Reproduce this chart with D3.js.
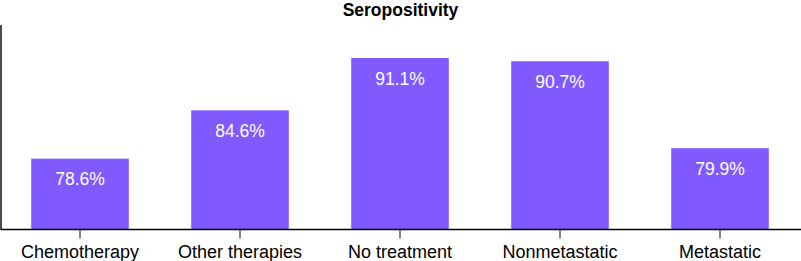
<!DOCTYPE html>
<head>
  <meta charset="utf-8">
  <script src="https://cdn.jsdelivr.net/npm/d3@7"></script>
  <style>
    body {
      margin: 0;
      font-family: "Liberation Sans", Arial, sans-serif;
    }
    .title {
      font-weight: bold;
      font-size: 17.5px;
    }
    .bar-label {
      fill: #fff;
      font-size: 17.5px;
    }
    .x-axis text {
      font-size: 18px;
      fill: #000;
    }
  </style>
</head>

<body>
  <div id="chart"></div>
  <script>

  var categories = ["Chemotherapy", "Other therapies", "No treatment", "Nonmetastatic", "Metastatic"],
      values = [78.6, 84.6, 91.1, 90.7, 79.9],
      labels = ["78.6%", "84.6%", "91.1%", "90.7%", "79.9%"];

  var width = 801, height = 261,
      margin = {top: 25, right: 1, bottom: 32, left: 1};

  var svg = d3.select("#chart").append("svg")
      .attr("width", width)
      .attr("height", height);

  var x = d3.scaleBand()
      .domain(categories)
      .range([0, 800])
      .paddingInner(0.39)
      .paddingOuter(0.195);

  var y = d3.scaleLinear()
      .domain([69.8, 95.2])
      .range([height - margin.bottom + 0.5, margin.top]);

  svg.append("text")
      .attr("class", "title")
      .attr("x", 400.5)
      .attr("y", 16)
      .style("text-anchor", "middle")
      .text("Seropositivity");

  svg.selectAll(".bar")
      .data(values)
    .enter().append("rect")
      .attr("class", "bar")
      .attr("x", function(d, i) { return x(categories[i]); })
      .attr("y", function(d) { return y(d); })
      .attr("width", x.bandwidth())
      .attr("height", function(d) { return y(y.domain()[0]) - y(d); })
      .style("fill", "#805aff");

  svg.selectAll(".bar-label")
      .data(values)
    .enter().append("text")
      .attr("class", "bar-label")
      .attr("x", function(d, i) { return x(categories[i]) + x.bandwidth() / 2; })
      .attr("y", function(d) { return y(d) + 26.5; })
      .style("text-anchor", "middle")
      .text(function(d, i) { return labels[i]; });

  var xAxis = svg.append("g")
      .attr("class", "x-axis")
      .attr("transform", "translate(0," + (height - margin.bottom + 0.5) + ")")
      .call(d3.axisBottom(x).tickSizeInner(9).tickSizeOuter(0).tickPadding(6));

  xAxis.select(".domain")
      .attr("d", "M0.5,0H801")
      .style("stroke", "#000")
      .style("stroke-width", 1.4);
  xAxis.selectAll(".tick line")
      .style("stroke", "#333")
      .style("stroke-width", 1.2);
  xAxis.selectAll(".tick text")
      .attr("dy", null)
      .attr("y", 28)
      .style("font-family", "'Liberation Sans', Arial, sans-serif");

  // y axis: plain line, no ticks
  svg.append("line")
      .attr("x1", 1).attr("x2", 1)
      .attr("y1", margin.top)
      .attr("y2", height - margin.bottom + 0.5)
      .style("stroke", "#000")
      .style("stroke-width", 1.4);

  </script>
</body>
